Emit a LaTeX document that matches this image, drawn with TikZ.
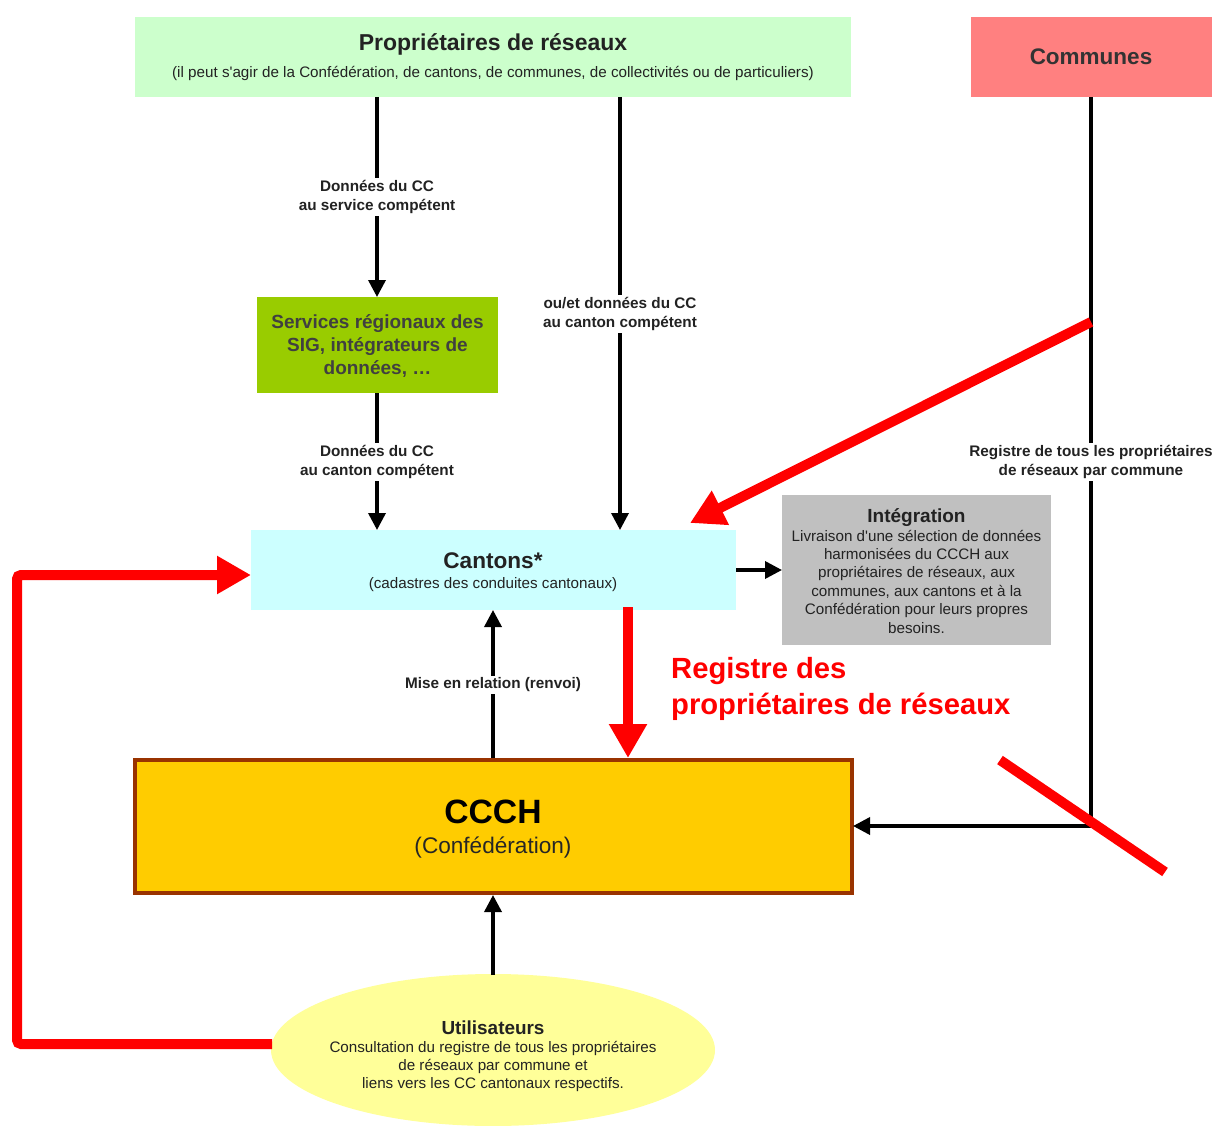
\documentclass[tikz,border=0pt]{standalone}
\usepackage{fontspec}
\setmainfont{Liberation Sans}
\usetikzlibrary{arrows.meta,shapes.geometric}
\definecolor{propgreen}{HTML}{CCFFCC}
\definecolor{commred}{HTML}{FF8080}
\definecolor{servgreen}{HTML}{99CC00}
\definecolor{cantcyan}{HTML}{CCFFFF}
\definecolor{integgray}{HTML}{C0C0C0}
\definecolor{ccchgold}{HTML}{FFCC00}
\definecolor{ccchbrown}{HTML}{993300}
\definecolor{useryellow}{HTML}{FFFF99}
\definecolor{txtdark}{HTML}{222222}
\newcommand{\fsz}[2]{\fontsize{#1}{#2}\selectfont}
\begin{document}
\begin{tikzpicture}[x=1pt,y=-1pt,
  box/.style={draw=none, minimum width=0pt, inner sep=0pt, align=center, text=txtdark},
  conn/.style={draw=black, line width=3.5pt, -{Triangle[length=17pt,width=17pt]}},
  lbl/.style={fill=white, inner sep=2pt, align=center, font=\bfseries\fsz{15.3}{19}, text=txtdark},
  redarrow/.style={draw=red, line width=10pt, -{Triangle[length=34pt,width=36pt]}},
  redline/.style={draw=red, line width=10pt}
]
\useasboundingbox[fill=white] (0,0) rectangle (1213,1126);

% boxes
\fill[propgreen] (135,17) rectangle (851,97);
\node[box] (propT) at (493,44) {\bfseries\fsz{23}{27}Propriétaires de réseaux};
\node[box] (propS) at (493,73) {\fsz{15.2}{18}(il peut s\textquotesingle agir de la Confédération, de cantons, de communes, de collectivités ou de particuliers)};
\coordinate (propA) at (377,97);
\coordinate (propB) at (620,97);

\fill[commred] (971,17) rectangle (1212,97);
\node[box, text=black!80] (comm) at (1091,57) {\bfseries\fsz{22.5}{26}Communes};
\coordinate (commB) at (1091,97);

\fill[servgreen] (257,297) rectangle (498,393);
\node[box, text=black!75, font=\bfseries\fsz{19}{23}] (serv) at (377.5,346) {Services régionaux des\\ SIG, intégrateurs de\\ données, \dots};
\coordinate (servT) at (377,297);
\coordinate (servB) at (377,393);

\fill[cantcyan] (251,530) rectangle (736,610);
\node[box] (cantT) at (493,561) {\bfseries\fsz{22.6}{26}Cantons*};
\node[box] (cantS) at (493,585) {\fsz{15.2}{18}(cadastres des conduites cantonaux)};
\coordinate (cantTopA) at (377,530);
\coordinate (cantTopB) at (620,530);
\coordinate (cantR) at (736,570);
\coordinate (cantL) at (251,575);
\coordinate (cantBot) at (493,610);
\coordinate (cantBotR) at (628,607);

\fill[integgray] (782,495) rectangle (1051,645);
\node[box, font=\fsz{15.2}{18.4}] (integ) at (916.5,571) {{\bfseries\fsz{19}{20}Intégration}\\
Livraison d\textquotesingle une sélection de données\\ harmonisées du CCCH aux\\ propriétaires de réseaux, aux\\ communes, aux cantons et à la\\ Confédération pour leurs propres\\ besoins.};
\coordinate (integL) at (782,570);

\draw[ccchbrown, line width=4pt, fill=ccchgold] (135,760) rectangle (852,893);
\node[box, text=black] (ccchT) at (493,812) {\bfseries\fsz{33.7}{38}CCCH};
\node[box, text=black!85] (ccchS) at (493,848) {\fsz{22.6}{26}(Confédération)};
\coordinate (ccchTop) at (493,758);
\coordinate (ccchTopR) at (628,758);
\coordinate (ccchR) at (853,826);
\coordinate (ccchBot) at (493,895);

\fill[useryellow] (493,1050) ellipse [x radius=222, y radius=76];
\node[box, font=\fsz{15.2}{18}] (user) at (493,1056) {{\bfseries\fsz{18.9}{20}Utilisateurs}\\
Consultation du registre de tous les propriétaires\\ de réseaux par commune et\\ liens vers les CC cantonaux respectifs.};
\coordinate (userTop) at (493,975);
\coordinate (userL) at (272,1044);

% black connectors
\draw[conn] (propA) -- (servT);
\node[lbl] (l1) at (377,197) {Données du CC\\ au service compétent};
\draw[conn] (servB) -- (cantTopA);
\node[lbl] (l2) at (377,462) {Données du CC\\ au canton compétent};
\draw[conn] (propB) -- (cantTopB);
\node[lbl] (l3) at (620,314) {ou/et données du CC\\ au canton compétent};
\coordinate (commCorner) at (1091,826);
\draw[conn] (commB) -- (commCorner) -- (ccchR);
\node[lbl] (l4) at (1091,462) {Registre de tous les propriétaires\\ de réseaux par commune};
\draw[conn] (cantR) -- (integL);
\draw[conn] (ccchTop) -- (cantBot);
\node[lbl] (l5) at (493,685) {Mise en relation (renvoi)};
\draw[conn] (userTop) -- (ccchBot);

% red overlays
\coordinate (redS) at (1091,322);
\coordinate (redE) at (690,523);
\draw[redarrow] (redS) -- (redE);
\draw[redarrow] (cantBotR) -- (ccchTopR);
\node[anchor=west, align=left, text=red, font=\bfseries\fsz{29.2}{36}, inner sep=0pt] (regtxt) at (671,689) {Registre des\\ propriétaires de réseaux};
\coordinate (strikeA) at (1000,760);
\coordinate (strikeB) at (1165,872);
\draw[redline] (strikeA) -- (strikeB);
\coordinate (rc1) at (17,1044);
\coordinate (rc2) at (17,575);
\draw[redarrow, rounded corners=4pt] (userL) -- (rc1) -- (rc2) -- (cantL);
\end{tikzpicture}
\end{document}
